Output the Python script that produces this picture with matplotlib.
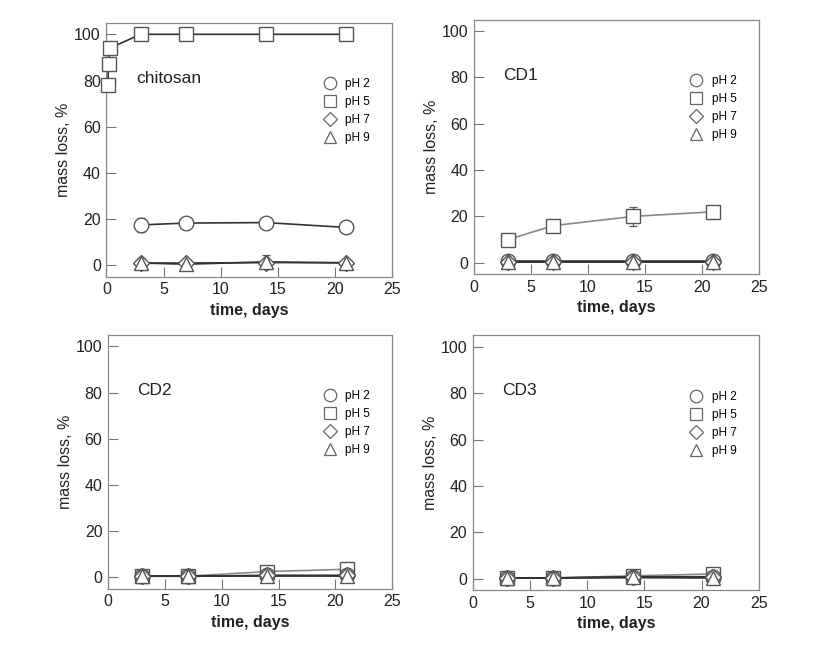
import matplotlib.pyplot as plt
from matplotlib.lines import Line2D

plt.rcParams['font.family'] = ['Liberation Sans', 'DejaVu Sans']

# tempos de amostragem (dias)
t = [3, 7, 14, 21]
t_chit_ph5 = [0.12, 0.2, 0.3, 3, 7, 14, 21]

# chitosan
chit_ph2 = [17.5, 18.3, 18.5, 16.4]
chit_ph2_err = [3.0, 1.0, 1.0, 1.0]
chit_ph5 = [78, 87, 94, 100, 100, 100, 100]
chit_ph5_err = [2, 2, 2, 0, 0, 0, 0]
chit_ph7 = [1.0, 1.0, 1.2, 1.2]
chit_ph9 = [1.0, 0.5, 1.5, 1.0]
chit_ph9_err = [2.0, 1.0, 3.0, 1.0]

# CD1
cd1_ph2 = [0.8, 0.8, 0.8, 0.8]
cd1_ph5 = [10, 16, 20, 22]
cd1_ph5_err = [0.5, 1.0, 4.0, 1.0]
cd1_ph7 = [0.5, 0.5, 0.5, 0.5]
cd1_ph9 = [0.3, 0.3, 0.3, 0.3]

# CD2
cd2_ph2 = [0.5, 0.5, 0.8, 0.8]
cd2_ph5 = [0.5, 0.5, 2.5, 3.5]
cd2_ph7 = [0.5, 0.5, 0.8, 0.8]
cd2_ph9 = [0.5, 0.5, 0.5, 0.5]

# CD3
cd3_ph2 = [0.3, 0.3, 0.8, 0.8]
cd3_ph5 = [0.3, 0.3, 1.2, 2.0]
cd3_ph7 = [0.3, 0.3, 0.5, 0.5]
cd3_ph9 = [0.3, 0.3, 0.5, 0.3]

legend_labels = ['pH 2', 'pH 5', 'pH 7', 'pH 9']
legend_markers = ['o', 's', 'D', '^']

fig = plt.figure(figsize=(8.31, 6.5), dpi=100)

axes_pos = [
    [0.128, 0.574, 0.344, 0.391],
    [0.570, 0.578, 0.343, 0.392],
    [0.130, 0.094, 0.342, 0.391],
    [0.569, 0.092, 0.344, 0.392],
]
titles = ['chitosan', 'CD1', 'CD2', 'CD3']

edge = '#555555'
line_dark = '#333333'
line_gray = '#888888'


def serie(ax, x, y, marker, lc, err=None, ms=10.5):
    if err is not None:
        ax.errorbar(x, y, yerr=err, fmt='none', ecolor=edge, elinewidth=0.9,
                    capsize=3, capthick=0.9, zorder=2)
    ax.plot(x, y, '-', color=lc, lw=1.2, zorder=3)
    ax.plot(x, y, linestyle='none', marker=marker, ms=ms, mfc='white',
            mec=edge, mew=1.0, zorder=4, clip_on=False)


axs = []
for pos in axes_pos:
    axs.append(fig.add_axes(pos))

# chitosan
ax = axs[0]
serie(ax, t_chit_ph5, chit_ph5, 's', line_dark, chit_ph5_err)
serie(ax, t, chit_ph2, 'o', line_dark, chit_ph2_err)
serie(ax, t, chit_ph7, 'D', line_dark, ms=8)
serie(ax, t, chit_ph9, '^', line_dark, chit_ph9_err)

# CD1
ax = axs[1]
serie(ax, t, cd1_ph5, 's', line_gray, cd1_ph5_err)
serie(ax, t, cd1_ph2, 'o', line_dark)
serie(ax, t, cd1_ph7, 'D', line_dark, ms=8)
serie(ax, t, cd1_ph9, '^', line_dark)

# CD2
ax = axs[2]
serie(ax, t, cd2_ph5, 's', line_gray)
serie(ax, t, cd2_ph2, 'o', line_dark)
serie(ax, t, cd2_ph7, 'D', line_dark, ms=8)
serie(ax, t, cd2_ph9, '^', line_dark)

# CD3
ax = axs[3]
serie(ax, t, cd3_ph5, 's', line_gray)
serie(ax, t, cd3_ph2, 'o', line_dark)
serie(ax, t, cd3_ph7, 'D', line_dark, ms=8)
serie(ax, t, cd3_ph9, '^', line_dark)

handles = []
for m in legend_markers:
    handles.append(Line2D([], [], linestyle='none', marker=m,
                          ms=9 if m != 'D' else 7, mfc='white',
                          mec='#666666', mew=0.9))

for ax, titulo in zip(axs, titles):
    ax.set_xlim(0, 25)
    ax.set_ylim(-5, 105)
    ax.set_xticks([0, 5, 10, 15, 20, 25])
    ax.set_yticks([0, 20, 40, 60, 80, 100])
    ax.tick_params(direction='in', length=7, width=0.8, color='#777777',
                   labelsize=11.5, labelcolor='#222222', pad=4)
    for s in ax.spines.values():
        s.set_color('#888888')
        s.set_linewidth(0.9)
    ax.set_xlabel('time, days', fontsize=11.5, fontweight='bold',
                  color='#222222', labelpad=4)
    ax.set_ylabel('mass loss, %', fontsize=11.5, color='#222222', labelpad=2)
    ax.text(2.6, 81, titulo, fontsize=12.5, color='#222222', va='center')
    ax.legend(handles, legend_labels, frameon=False, fontsize=8.5,
              loc='upper left', bbox_to_anchor=(0.74, 0.80),
              handletextpad=0.7, labelspacing=0.5, borderaxespad=0,
              handlelength=1.2)

fig.savefig('out.png', dpi=100)
